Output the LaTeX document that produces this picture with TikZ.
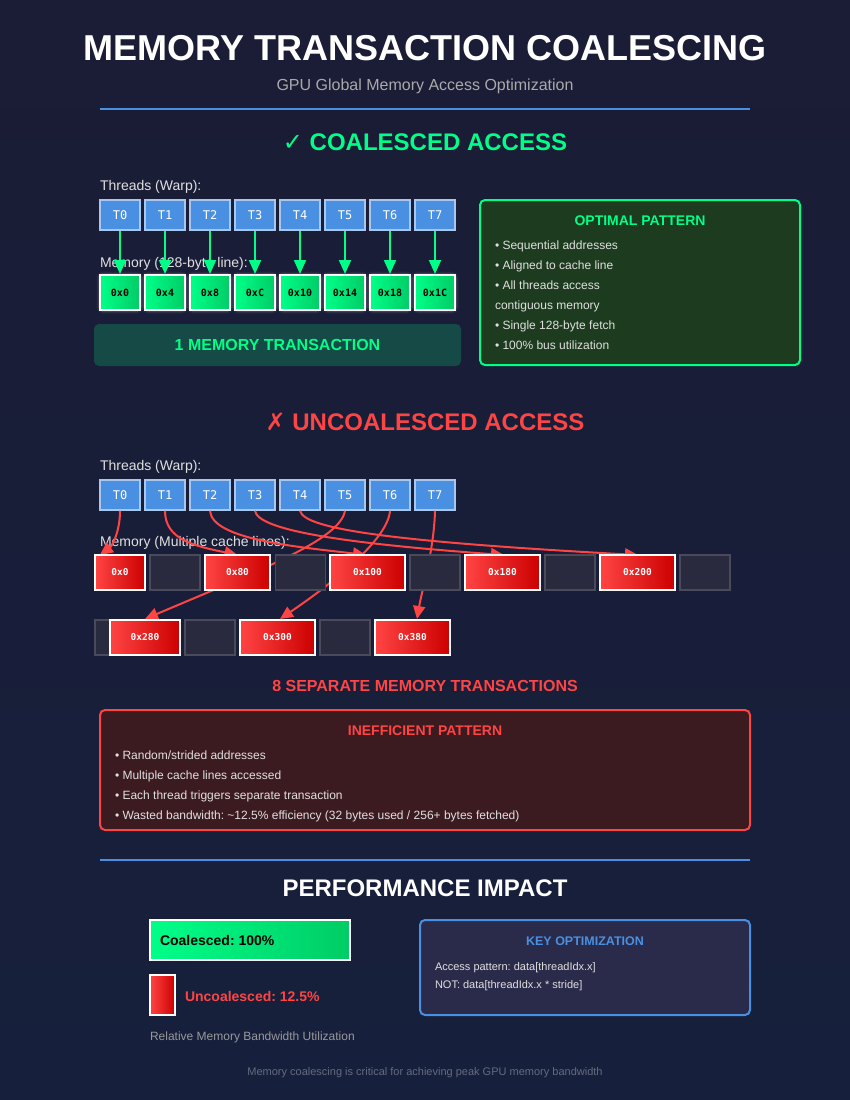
\documentclass[tikz,border=0pt]{standalone}
\usepackage{fontspec}
\setmainfont{Liberation Sans}
\newfontfamily\monofont{DejaVu Sans Mono}
\newfontfamily\symbolfont{DejaVu Sans}
\usetikzlibrary{arrows.meta,calc}
\frenchspacing

\definecolor{bgtop}{RGB}{27,28,53}
\definecolor{bgbot}{RGB}{22,32,60}
\definecolor{accentblue}{HTML}{4A90E2}
\definecolor{neongreen}{HTML}{00FF88}
\definecolor{deepgreen}{HTML}{00CC66}
\definecolor{hotred}{HTML}{FF4444}
\definecolor{deepred}{HTML}{CC0000}
\definecolor{softtext}{HTML}{E0E0E0}
\definecolor{subtext}{HTML}{AAAAAA}
\definecolor{mutedtext}{HTML}{999999}
\definecolor{footertext}{HTML}{666A7C}
\definecolor{threadedge}{HTML}{A9C7EE}
\definecolor{emptyfill}{HTML}{2A2A3E}
\definecolor{emptyedge}{HTML}{4A4A5A}
\definecolor{tealpanel}{HTML}{164A46}
\definecolor{greenpanel}{HTML}{1D3B1F}
\definecolor{redpanel}{HTML}{3C1B20}
\definecolor{bluepanel}{HTML}{2A2A4A}

\newcommand{\pxsize}[1]{\fontsize{#1}{#1}\selectfont}

\tikzset{
  lbl/.style={inner sep=0pt, outer sep=0pt},
  thread/.style={draw=threadedge, fill=accentblue, line width=1.5pt,
    minimum width=40pt, minimum height=30pt, inner sep=0pt,
    font=\monofont\pxsize{12}, text=white},
  gmem/.style={draw=white, line width=2pt, left color=neongreen, right color=deepgreen,
    minimum width=40pt, minimum height=35pt, inner sep=0pt,
    font=\monofont\bfseries\pxsize{10}, text=black},
  rmem/.style={draw=white, line width=2pt, left color=hotred, right color=deepred,
    minimum height=35pt, inner sep=0pt,
    font=\monofont\bfseries\pxsize{9.5}, text=white},
  emem/.style={draw=emptyedge, fill=emptyfill, line width=1.5pt,
    minimum width=50pt, minimum height=35pt, inner sep=0pt},
  garrow/.style={draw=neongreen, line width=2pt, -{Triangle[width=12pt,length=14pt]}},
  rarrow/.style={draw=hotred, line width=2pt, -{Triangle[width=12pt,length=13pt]}},
  panel/.style={rounded corners=5pt, line width=2pt, inner sep=0pt},
  bullet/.style={lbl, anchor=base west, text=softtext, font=\pxsize{12}},
  note/.style={lbl, anchor=base west, text=softtext, font=\pxsize{11}},
  glow/.style={draw=white, rounded corners=3pt},
}

\begin{document}
\begin{tikzpicture}[x=1pt,y=-1pt]
  % page and background
  \useasboundingbox (0,0) rectangle (850,1100);
  \shade[top color=bgtop, bottom color=bgbot] (0,0) rectangle (850,1100);

  % ---------- header ----------
  \node[lbl, anchor=base, text=white, font=\bfseries\pxsize{36}] (title) at (425,60)
    {MEMORY TRANSACTION COALESCING};
  \node[lbl, anchor=base, text=subtext, font=\pxsize{16}] (subtitle) at (425,90)
    {GPU Global Memory Access Optimization};
  \coordinate (ruleAL) at (100,109);
  \coordinate (ruleAR) at (750,109);
  \draw[accentblue, line width=2pt] (ruleAL) -- (ruleAR);

  % ---------- coalesced access ----------
  \node[lbl, anchor=base, text=neongreen, font=\bfseries\pxsize{24}] (cohead) at (425,150)
    {{\symbolfont\mdseries ✓} COALESCED ACCESS};
  \node[lbl, anchor=base west, text=softtext, font=\pxsize{14}] (cothreads) at (100,190)
    {Threads (Warp):};
  \node[lbl, anchor=base west, text=softtext, font=\pxsize{14}] (comemory) at (100,267)
    {Memory (128-byte line):};

  \foreach \i/\addr in {0/0x0,1/0x4,2/0x8,3/0xC,4/0x10,5/0x14,6/0x18,7/0x1C} {
    \pgfmathsetmacro{\cx}{120+45*\i}
    \node[thread] (c\i) at (\cx,215) {T\i};
    % soft halo around each memory cell
    \foreach \g/\o in {7/0.04,5/0.06,3.5/0.09} {
      \draw[glow, line width=\g pt, opacity=\o] (\cx-20,275) rectangle (\cx+20,310);
    }
    \node[gmem] (cm\i) at (\cx,292.5) {\addr};
    \draw[garrow] (c\i.south) -- (cm\i.north);
  }

  \node[panel, fill=tealpanel, minimum width=367pt, minimum height=42pt] (onetx) at (277.5,345) {};
  \node[lbl, text=neongreen, font=\bfseries\pxsize{16}] (onetxlabel) at (onetx.center)
    {1 MEMORY TRANSACTION};

  \node[panel, draw=neongreen, fill=greenpanel, minimum width=320pt, minimum height=165pt]
    (optpanel) at (640,282.5) {};
  \node[lbl, anchor=base, text=neongreen, font=\bfseries\pxsize{14}] (opttitle) at (640,225)
    {OPTIMAL PATTERN};
  \node[bullet] (opt1) at (495,249) {• Sequential addresses};
  \node[bullet] (opt2) at (495,269) {• Aligned to cache line};
  \node[bullet] (opt3) at (495,289) {• All threads access};
  \node[bullet] (opt4) at (495,309) {contiguous memory};
  \node[bullet] (opt5) at (495,329) {• Single 128-byte fetch};
  \node[bullet] (opt6) at (495,349) {• 100\% bus utilization};

  % ---------- uncoalesced access ----------
  \node[lbl, anchor=base, text=hotred, font=\bfseries\pxsize{24}] (unhead) at (425,430)
    {{\symbolfont\mdseries ✗} UNCOALESCED ACCESS};
  \node[lbl, anchor=base west, text=softtext, font=\pxsize{14}] (unthreads) at (100,470)
    {Threads (Warp):};
  \node[lbl, anchor=base west, text=softtext, font=\pxsize{14}] (unmemory) at (100,546)
    {Memory (Multiple cache lines):};

  \foreach \i in {0,...,7} {
    \pgfmathsetmacro{\cx}{120+45*\i}
    \node[thread] (u\i) at (\cx,495) {T\i};
  }

  % target anchors of the scattered accesses
  \coordinate (tgt0) at (100,555);
  \coordinate (tgt1) at (237.5,555);
  \coordinate (tgt2) at (366,555);
  \coordinate (tgt3) at (504,555);
  \coordinate (tgt4) at (638,555);
  \coordinate (tgt5) at (145,619);
  \coordinate (tgt6) at (280,619);
  \coordinate (tgt7) at (417,619);

  % strided accesses, drawn beneath the memory cells
  \draw[rarrow] (u0.south) .. controls (120,532) and (112,546) .. (tgt0);
  \draw[rarrow] (u1.south) .. controls (165,540) and (195,546) .. (tgt1);
  \draw[rarrow] (u2.south) .. controls (212,540) and (300,547) .. (tgt2);
  \draw[rarrow] (u3.south) .. controls (258,530) and (340,543) .. (tgt3);
  \draw[rarrow] (u4.south) .. controls (304,528) and (380,541) .. (tgt4);
  \draw[rarrow] (u5.south) .. controls (340,540) and (260,570) .. (tgt5);
  \draw[rarrow] (u6.south) .. controls (388,540) and (330,585) .. (tgt6);
  \draw[rarrow] (u7.south) .. controls (434,550) and (422,590) .. (tgt7);

  % first row of cache lines
  \node[rmem, minimum width=50pt] (um0) at (120,572.5) {0x0};
  \node[emem] (ue0) at (175,572.5) {};
  \node[rmem, minimum width=65pt] (um1) at (237.5,572.5) {0x80};
  \node[emem] (ue1) at (300.5,572.5) {};
  \node[rmem, minimum width=75pt] (um2) at (367.5,572.5) {0x100};
  \node[emem] (ue2) at (435,572.5) {};
  \node[rmem, minimum width=75pt] (um3) at (502.5,572.5) {0x180};
  \node[emem] (ue3) at (570,572.5) {};
  \node[rmem, minimum width=75pt] (um4) at (637.5,572.5) {0x200};
  \node[emem] (ue4) at (705,572.5) {};

  % second row of cache lines
  \node[emem] (ue5) at (120,637.5) {};
  \node[rmem, minimum width=70pt] (um5) at (145,637.5) {0x280};
  \node[emem] (ue6) at (210,637.5) {};
  \node[rmem, minimum width=75pt] (um6) at (277.5,637.5) {0x300};
  \node[emem] (ue7) at (345,637.5) {};
  \node[rmem, minimum width=75pt] (um7) at (412.5,637.5) {0x380};

  \node[lbl, anchor=base, text=hotred, font=\bfseries\pxsize{16}] (eighttx) at (425,691)
    {8 SEPARATE MEMORY TRANSACTIONS};

  \node[panel, draw=hotred, fill=redpanel, minimum width=650pt, minimum height=120pt]
    (badpanel) at (425,770) {};
  \node[lbl, anchor=base, text=hotred, font=\bfseries\pxsize{14}] (badtitle) at (425,735)
    {INEFFICIENT PATTERN};
  \node[bullet] (bad1) at (115,759) {• Random/strided addresses};
  \node[bullet] (bad2) at (115,779) {• Multiple cache lines accessed};
  \node[bullet] (bad3) at (115,799) {• Each thread triggers separate transaction};
  \node[bullet] (bad4) at (115,819)
    {• Wasted bandwidth: \textasciitilde 12.5\% efficiency (32 bytes used / 256+ bytes fetched)};

  % ---------- performance impact ----------
  \coordinate (ruleBL) at (100,860);
  \coordinate (ruleBR) at (750,860);
  \draw[accentblue, line width=2pt] (ruleBL) -- (ruleBR);
  \node[lbl, anchor=base, text=white, font=\bfseries\pxsize{24}] (perfhead) at (425,896)
    {PERFORMANCE IMPACT};

  \node[draw=white, line width=2pt, left color=neongreen, right color=deepgreen,
    minimum width=200pt, minimum height=40pt, inner sep=0pt] (fullbar) at (250,940) {};
  \node[lbl, anchor=west, text=black, font=\bfseries\pxsize{14}] (fulllabel) at (160,940)
    {Coalesced: 100\%};
  \node[draw=white, line width=2pt, left color=hotred, right color=deepred,
    minimum width=25pt, minimum height=40pt, inner sep=0pt] (lowbar) at (162.5,995) {};
  \node[lbl, anchor=west, text=hotred, font=\bfseries\pxsize{14}] (lowlabel) at (185,996)
    {Uncoalesced: 12.5\%};
  \node[lbl, anchor=base west, text=mutedtext, font=\pxsize{12}] (barcaption) at (150,1040)
    {Relative Memory Bandwidth Utilization};

  \node[panel, draw=accentblue, fill=bluepanel, minimum width=330pt, minimum height=95pt]
    (keypanel) at (585,967.5) {};
  \node[lbl, anchor=base, text=accentblue, font=\bfseries\pxsize{12.5}] (keytitle) at (585,945)
    {KEY OPTIMIZATION};
  \node[note] (key1) at (435,970) {Access pattern: data[threadIdx.x]};
  \node[note] (key2) at (435,988) {NOT: data[threadIdx.x * stride]};

  \node[lbl, anchor=base, text=footertext, font=\pxsize{11}] (footer) at (425,1075)
    {Memory coalescing is critical for achieving peak GPU memory bandwidth};
\end{tikzpicture}
\end{document}
